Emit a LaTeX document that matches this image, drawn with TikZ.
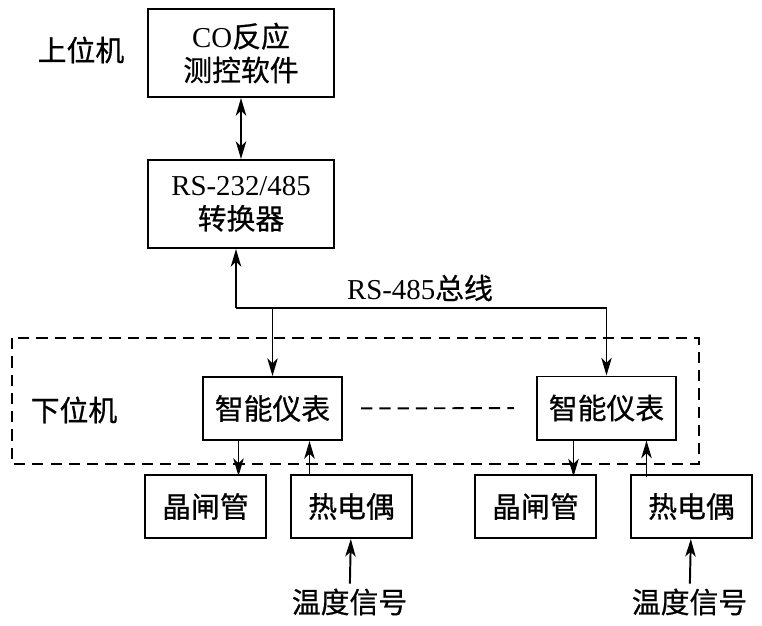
\documentclass[tikz,border=0pt]{standalone}
\usepackage{fontspec}
\setmainfont{Liberation Serif}
\newfontfamily\cjk{Noto Sans CJK SC}[FakeBold=0.7]
\usetikzlibrary{arrows.meta}

\begin{document}
\begin{tikzpicture}[x=0.025cm,y=-0.025cm,
  >={Stealth[length=4.4mm,width=2.6mm,inset=1.2mm]},
  font=\fontsize{20.5}{24}\selectfont,
  ln/.style={line width=1.4pt},
  pc/.style={draw,ln,align=center,minimum width=4.65cm,minimum height=2.2cm},
  meter/.style={draw,ln,minimum width=3.475cm,minimum height=1.575cm},
  dev/.style={draw,ln,minimum width=3.025cm,minimum height=1.575cm},
  dsh/.style={ln,dash pattern=on 8pt off 5pt}]
\useasboundingbox (0,0) rectangle (762,625);
\node[pc] (soft) at (241,53) {CO{\cjk 反应}\\{\cjk 测控软件}};
\node[pc] (conv) at (241,204) {RS-232/485\\{\cjk 转换器}};
\node (host) at (81,50) {\cjk 上位机};
\node (bus) at (420,288) {RS-485{\cjk 总线}};
\node (slave) at (74,410) {\cjk 下位机};
\node[meter] (meterL) at (272.5,408.5) {\cjk 智能仪表};
\node[meter] (meterR) at (606.5,408) {\cjk 智能仪表};
\node[dev] (thyL) at (205.5,506.5) {\cjk 晶闸管};
\node[dev] (tcL) at (351.5,506.5) {\cjk 热电偶};
\node[dev] (thyR) at (535.5,506.5) {\cjk 晶闸管};
\node[dev] (tcR) at (691.5,506.5) {\cjk 热电偶};
\node (sigL) at (349.5,602) {\cjk 温度信号};
\node (sigR) at (689.5,602) {\cjk 温度信号};
\coordinate (tap) at (236,308);
% upper part
\draw[ln,<->] (soft) -- (conv);
\draw[ln,->] (tap) -- (tap |- conv.south);
\draw[ln,->] (tap) -| (meterR);
\draw[ln,->] (tap -| meterL) -- (meterL);
% lower part
\draw[dsh] (12,338) rectangle (699,464);
\draw[dsh,shorten <=0.45cm,shorten >=0.55cm] (meterL) -- (meterR);
\draw[ln,->] (meterL.south) ++(-34,0) -- ++(0,35);
\draw[ln,<-] (meterL.south) ++(37,0) -- ++(0,35);
\draw[ln,->] (meterR.south) ++(-33,0) -- ++(0,36);
\draw[ln,<-] (meterR.south) ++(40,0) -- ++(0,36);
\draw[ln,->] (sigL) -- (tcL);
\draw[ln,->] (sigR) -- (tcR);
\end{tikzpicture}
\end{document}
